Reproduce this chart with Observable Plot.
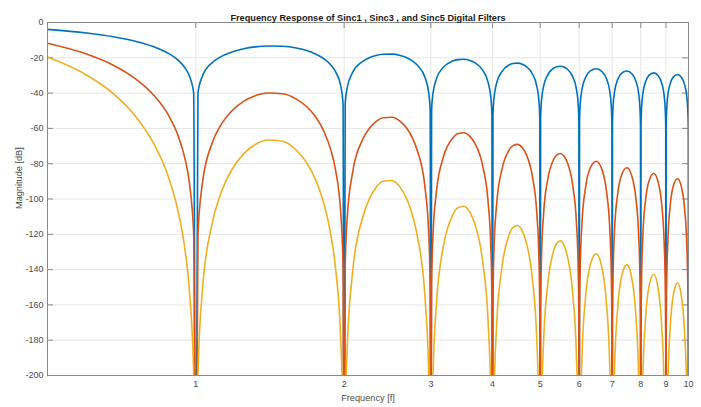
<!DOCTYPE html>
<html>
<head>
<meta charset="utf-8">
<script src="https://cdn.jsdelivr.net/npm/d3@7"></script>
<script src="https://cdn.jsdelivr.net/npm/@observablehq/plot@0.6"></script>
<style>
  html, body { margin: 0; padding: 0; background: #fff; }
  svg { display: block; }
</style>
</head>
<body>
<script>
// ---- data ----
const titleText = "Frequency Response of Sinc1 , Sinc3 , and Sinc5 Digital Filters";
const xLabel = "Frequency [f]";
const yLabel = "Magnitude [dB]";

const xTicks = [1, 2, 3, 4, 5, 6, 7, 8, 9, 10];
const yTicks = [0, -20, -40, -60, -80, -100, -120, -140, -160, -180, -200];

const freq = [
  0.5, 0.6, 0.68, 0.75, 0.82, 0.88, 0.92, 0.95, 0.97, 0.99, 1,
  1.01, 1.03, 1.08, 1.12, 1.18, 1.25, 1.32, 1.4, 1.5, 1.6, 1.68, 1.75, 1.82, 1.88, 1.92, 1.97, 1.99, 2,
  2.01, 2.03, 2.08, 2.18, 2.25, 2.32, 2.4, 2.5, 2.6, 2.68, 2.75, 2.82, 2.92, 2.97, 2.99, 3,
  3.01, 3.03, 3.08, 3.18, 3.32, 3.4, 3.5, 3.6, 3.68, 3.82, 3.92, 3.97, 3.99, 4,
  4.01, 4.03, 4.08, 4.18, 4.32, 4.4, 4.5, 4.6, 4.68, 4.82, 4.92, 4.97, 4.99, 5,
  5.01, 5.03, 5.08, 5.18, 5.32, 5.4, 5.5, 5.6, 5.68, 5.82, 5.92, 5.97, 5.99, 6,
  6.01, 6.03, 6.08, 6.18, 6.32, 6.5, 6.68, 6.82, 6.92, 6.97, 6.99, 7,
  7.01, 7.03, 7.08, 7.18, 7.32, 7.5, 7.68, 7.82, 7.92, 7.97, 7.99, 8,
  8.01, 8.03, 8.08, 8.18, 8.32, 8.5, 8.68, 8.82, 8.92, 8.97, 8.99, 9,
  9.01, 9.03, 9.08, 9.18, 9.32, 9.5, 9.68, 9.82, 9.92, 9.97, 9.99, 10
];

const sinc1 = [
  -3.92, -5.95, -8.06, -10.45, -13.64, -17.51, -21.31, -25.61, -30.21, -39.92, -320,
  -40.09, -30.73, -22.70, -19.61, -16.80, -14.89, -13.82, -13.31, -13.46, -14.47, -15.92, -17.81, -20.56, -24.11, -27.70, -36.36, -45.98, -320,
  -46.07, -36.62, -28.39, -22.13, -20.00, -18.72, -17.99, -17.90, -18.68, -19.98, -21.74, -24.37, -31.34, -39.93, -49.52, -320,
  -49.57, -40.10, -31.80, -25.41, -21.84, -21.01, -20.82, -21.51, -22.73, -27.00, -33.90, -42.45, -52.02, -320,
  -52.07, -42.58, -34.25, -27.79, -24.12, -23.25, -23.01, -23.64, -24.82, -29.02, -35.87, -44.40, -53.97, -320,
  -54.00, -44.50, -36.15, -29.65, -25.93, -25.03, -24.75, -25.35, -26.50, -30.66, -37.48, -45.99, -55.55, -320,
  -55.58, -46.08, -37.71, -31.18, -27.43, -26.20, -27.91, -32.04, -38.84, -47.34, -56.89, -320,
  -56.92, -47.41, -39.03, -32.49, -28.70, -27.44, -29.12, -33.23, -40.01, -48.50, -58.05, -320,
  -58.08, -48.57, -40.18, -33.62, -29.82, -28.53, -30.18, -34.27, -41.04, -49.53, -59.08, -320,
  -59.10, -49.59, -41.19, -34.62, -30.80, -29.50, -31.13, -35.21, -41.96, -50.45, -59.99, -320
];

const sinc3 = [
  -11.76, -17.85, -24.18, -31.35, -40.92, -52.53, -63.93, -76.83, -90.63, -119.76, -320,
  -120.27, -92.19, -68.10, -58.83, -50.40, -44.67, -41.46, -39.93, -40.38, -43.41, -47.76, -53.43, -61.68, -72.33, -83.10, -109.08, -137.94, -320,
  -138.21, -109.86, -85.17, -66.39, -60.00, -56.16, -53.97, -53.70, -56.04, -59.94, -65.22, -73.11, -94.02, -119.79, -148.56, -320,
  -148.71, -120.30, -95.40, -76.23, -65.52, -63.03, -62.46, -64.53, -68.19, -81.00, -101.70, -127.35, -156.06, -320,
  -156.21, -127.74, -102.75, -83.37, -72.36, -69.75, -69.03, -70.92, -74.46, -87.06, -107.61, -133.20, -161.91, -320,
  -162.00, -133.50, -108.45, -88.95, -77.79, -75.09, -74.25, -76.05, -79.50, -91.98, -112.44, -137.97, -166.65, -320,
  -166.74, -138.24, -113.13, -93.54, -82.29, -78.60, -83.73, -96.12, -116.52, -142.02, -170.67, -320,
  -170.76, -142.23, -117.09, -97.47, -86.10, -82.32, -87.36, -99.69, -120.03, -145.50, -174.15, -320,
  -174.24, -145.71, -120.54, -100.86, -89.46, -85.59, -90.54, -102.81, -123.12, -148.59, -177.24, -320,
  -177.30, -148.77, -123.57, -103.86, -92.40, -88.50, -93.39, -105.63, -125.88, -151.35, -179.97, -320
];

const sinc5 = [
  -19.60, -29.75, -40.30, -52.25, -68.20, -87.55, -106.55, -128.05, -151.05, -199.60, -320,
  -200.45, -153.65, -113.50, -98.05, -84.00, -74.45, -69.10, -66.55, -67.30, -72.35, -79.60, -89.05, -102.80, -120.55, -138.50, -181.80, -229.90, -320,
  -230.35, -183.10, -141.95, -110.65, -100.00, -93.60, -89.95, -89.50, -93.40, -99.90, -108.70, -121.85, -156.70, -199.65, -247.60, -320,
  -247.85, -200.50, -159.00, -127.05, -109.20, -105.05, -104.10, -107.55, -113.65, -135.00, -169.50, -212.25, -260.10, -320,
  -260.35, -212.90, -171.25, -138.95, -120.60, -116.25, -115.05, -118.20, -124.10, -145.10, -179.35, -222.00, -269.85, -320,
  -270.00, -222.50, -180.75, -148.25, -129.65, -125.15, -123.75, -126.75, -132.50, -153.30, -187.40, -229.95, -277.75, -320,
  -277.90, -230.40, -188.55, -155.90, -137.15, -131.00, -139.55, -160.20, -194.20, -236.70, -284.45, -320,
  -284.60, -237.05, -195.15, -162.45, -143.50, -137.20, -145.60, -166.15, -200.05, -242.50, -290.25, -320,
  -290.40, -242.85, -200.90, -168.10, -149.10, -142.65, -150.90, -171.35, -205.20, -247.65, -295.40, -320,
  -295.50, -247.95, -205.95, -173.10, -154.00, -147.50, -155.65, -176.05, -209.80, -252.25, -299.95, -320
];

const seriesNames = ["Sinc1", "Sinc3", "Sinc5"];
const seriesColors = ["#0072BD", "#D95319", "#EDB120"];

// ---- build table ----
const series = [sinc1, sinc3, sinc5];
series.forEach((s, i) => {
  if (s.length !== freq.length) throw new Error(`length mismatch ${seriesNames[i]}: ${s.length} vs ${freq.length}`);
});
const rows = series.map((s, i) => freq.map((f, j) => ({f, db: s[j], name: seriesNames[i]})));

const W = 701, H = 407;
const M = {top: 22, right: 13, bottom: 32, left: 47};
const frameW = W - M.left - M.right;
const frameH = H - M.top - M.bottom;
const tickLen = 6;
const axisColor = "#8a8a8a";
const textColor = "#4a4a4a";
const gridColor = "#e6e6e6";

const chart = Plot.plot({
  width: W,
  height: H,
  marginTop: M.top,
  marginRight: M.right,
  marginBottom: M.bottom,
  marginLeft: M.left,
  style: {fontFamily: "'Liberation Sans', Arial, sans-serif", fontSize: "9px", background: "#fff"},
  x: {type: "log", domain: [0.5, 10], axis: null},
  y: {domain: [-200, 0], axis: null},
  marks: [
    Plot.gridX(xTicks, {stroke: gridColor, strokeOpacity: 1}),
    Plot.gridY(yTicks, {stroke: gridColor, strokeOpacity: 1}),
    // inward ticks (all four sides)
    Plot.ruleX(xTicks, {x: d => d, insetTop: frameH - tickLen, stroke: axisColor}),
    Plot.ruleX(xTicks, {x: d => d, insetBottom: frameH - tickLen, stroke: axisColor}),
    Plot.ruleY(yTicks, {y: d => d, insetRight: frameW - tickLen, stroke: axisColor}),
    Plot.ruleY(yTicks, {y: d => d, insetLeft: frameW - tickLen, stroke: axisColor}),
    ...rows.map((r, i) => Plot.line(r, {
      x: "f", y: "db", stroke: seriesColors[i], strokeWidth: 1.6,
      curve: "monotone-x", clip: true
    })),
    Plot.frame({stroke: axisColor, strokeWidth: 1}),
    // tick labels
    Plot.text(xTicks, {x: d => d, frameAnchor: "bottom", dy: 11, text: d => String(d), fill: textColor, fontSize: 9}),
    Plot.text(yTicks, {y: d => d, frameAnchor: "left", dx: -4, textAnchor: "end", text: d => String(d), fill: textColor, fontSize: 9}),
    Plot.text([titleText], {frameAnchor: "top", dy: -8, fontWeight: "bold", fontSize: 9.2, fill: "#1a1a1a"}),
    Plot.text([xLabel], {frameAnchor: "bottom", dy: 25, fontSize: 9.2, fill: textColor}),
    Plot.text([yLabel], {frameAnchor: "left", dx: -28, dy: 10, rotate: -90, fontSize: 9.2, fill: textColor})
  ]
});
document.body.appendChild(chart);
</script>
</body>
</html>
